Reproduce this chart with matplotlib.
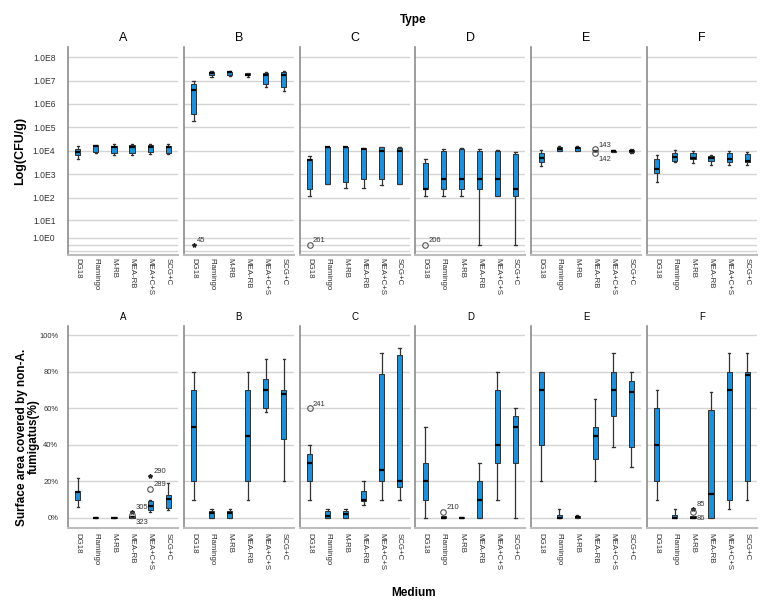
import numpy as np
import matplotlib
matplotlib.use('Agg')
import matplotlib.pyplot as plt

plt.rcParams['font.family'] = ['Liberation Sans', 'DejaVu Sans']

types = ['A', 'B', 'C', 'D', 'E', 'F']
media = ['DG18', 'Flamingo', 'M-RB', 'MEA-RB', 'MEA+C+S', 'SCG+C']

# CFU/g box statistics, rows = type, columns = medium
cfu_low = [[4700, 7700, 6600, 6600, 7200, 7200],
           [1.9e5, 1.4e7, 1.55e7, 1.4e7, 5.3e6, 3.5e6],
           [122, 370, 250, 250, 350, 370],
           [122, 122, 122, 0, 122, 0],
           [2200, 10000, 10000, 9400, 8500, 8000],
           [480, 3200, 2900, 2400, 2500, 2400]]
cfu_q1 = [[6600, 9000, 8200, 8200, 8500, 8200],
          [3.9e5, 1.7e7, 1.7e7, 1.65e7, 7.4e6, 5.3e6],
          [233, 370, 480, 600, 600, 370],
          [240, 240, 240, 240, 122, 122],
          [3400, 10000, 10000, 9500, 9300, 9000],
          [1100, 3800, 4400, 3600, 3200, 3200]]
cfu_med = [[9100, 16000, 14800, 14800, 14800, 14800],
           [3.8e6, 2.15e7, 2.2e7, 1.8e7, 1.7e7, 1.7e7],
           [4200, 14800, 14800, 11800, 9700, 9700],
           [240, 600, 600, 600, 600, 240],
           [5000, 12200, 13000, 9700, 9700, 9700],
           [1660, 5500, 5000, 5000, 4400, 3600]]
cfu_q3 = [[11700, 17000, 16300, 17000, 17000, 16300],
          [7.4e6, 2.4e7, 2.4e7, 2.0e7, 2.1e7, 2.3e7],
          [4700, 14800, 14800, 12600, 14800, 13000],
          [2900, 9700, 12200, 9700, 9700, 7000],
          [7700, 15000, 15000, 9900, 10200, 10700],
          [4300, 8200, 8400, 5900, 7700, 7300]]
cfu_high = [[16200, 18000, 20500, 20500, 20500, 19000],
            [9.1e6, 2.5e7, 2.5e7, 2.05e7, 2.4e7, 2.45e7],
            [5900, 14800, 14800, 12600, 14800, 14500],
            [4400, 12200, 12600, 11500, 10500, 9100],
            [10700, 15800, 16500, 10000, 11200, 11500],
            [6600, 10700, 10000, 6600, 10000, 8500]]
# (type, medium, value, case label, marker, label below?)
cfu_outliers = [('B', 'DG18', 0, '45', '*', False),
                ('C', 'DG18', 0, '261', 'o', False),
                ('D', 'DG18', 0, '206', 'o', False),
                ('E', 'MEA-RB', 11500, '143', 'o', False),
                ('E', 'MEA-RB', 8200, '142', 'o', True)]

# surface area covered by non-A. fumigatus (%)
area_low = [[6, 0, 0, 0, 3, 4.2],
            [10, 0, 0, 10, 58, 20],
            [10, 0, 0, 7, 10, 10],
            [0, 0, 0, 0, 10, 0],
            [20, 0, 0, 20, 39, 28],
            [10, 0, 0, 0, 5, 10]]
area_q1 = [[10, 0, 0, 0, 4.5, 5.5],
           [20, 0, 0, 20, 60, 43],
           [20, 0, 0, 9.5, 20, 17],
           [10, 0, 0, 0, 30, 30],
           [40, 0, 0, 32, 56, 39],
           [20, 0, 0, 0, 10, 20]]
area_med = [[14.3, 0, 0, 0.5, 6.5, 10.5],
            [50, 2.7, 2.7, 45, 70, 68],
            [30, 1, 2, 10, 26, 20],
            [20, 0, 0, 10, 40, 50],
            [70, 0, 0.3, 45, 70, 69],
            [40, 0, 0, 13, 70, 78]]
area_q3 = [[15, 0.5, 0.5, 1, 9, 12.5],
           [70, 4, 4, 70, 76, 70],
           [35, 4, 4, 15, 79, 89],
           [30, 1, 0.3, 20, 70, 56],
           [80, 1.8, 0.9, 50, 80, 75],
           [60, 1.8, 0.8, 59, 80, 80]]
area_high = [[22, 0.5, 0.5, 1, 10, 19.2],
             [80, 5, 5, 80, 87, 87],
             [40, 5, 5, 20, 90.5, 93],
             [50, 1, 0.3, 30, 80, 60],
             [80, 5, 1.8, 65, 90, 80],
             [70, 5, 0.8, 69, 90, 90]]
area_outliers = [('A', 'MEA-RB', 3.5, '305', '*', False),
                 ('A', 'MEA-RB', 1.5, '323', 'o', True),
                 ('A', 'MEA+C+S', 23, '290', '*', False),
                 ('A', 'MEA+C+S', 16, '289', 'o', False),
                 ('C', 'DG18', 60, '241', 'o', False),
                 ('D', 'Flamingo', 3.3, '210', 'o', False),
                 ('F', 'M-RB', 5, '85', '*', False),
                 ('F', 'M-RB', 3.5, '86', 'o', True)]

BLUE = '#1f8fd8'
W, H = 776, 606
fig = plt.figure(figsize=(W / 100, H / 100), dpi=100)


def fwd(x):
    return np.log10(np.clip(np.asarray(x, dtype=float) + 1, 1e-3, None))


def inv(y):
    return 10 ** np.asarray(y, dtype=float) - 1


def make_row(top_px, bottom_px):
    axes = []
    for i in range(6):
        left = 68 + i * 115.8
        ax = fig.add_axes([left / W, 1 - bottom_px / H, 110 / W, (bottom_px - top_px) / H])
        axes.append(ax)
    return axes


def draw_panel(ax, t, low, q1, med, q3, high, outliers):
    stats = [dict(whislo=low[t][m], q1=q1[t][m], med=med[t][m], q3=q3[t][m],
                  whishi=high[t][m], label=media[m]) for m in range(6)]
    ax.bxp(stats, positions=range(6), widths=0.28, capwidths=0.14, patch_artist=True,
           showfliers=False,
           boxprops=dict(facecolor=BLUE, edgecolor='#1a1a1a', linewidth=0.6),
           medianprops=dict(color='black', linewidth=1.6),
           whiskerprops=dict(color='#333333', linewidth=0.9),
           capprops=dict(color='#333333', linewidth=0.9))
    for tp, md, val, lab, mk, below in outliers:
        if tp != types[t]:
            continue
        m = media.index(md)
        if mk == 'o':
            ax.plot(m, val, marker='o', ms=4, mfc='none', mec='#555555', mew=0.8, zorder=5)
        else:
            ax.plot(m, val, marker='*', ms=3, color='#222222', zorder=5)
        ax.annotate(lab, (m, val), xytext=(2.5, -5 if below else 3), textcoords='offset points',
                    fontsize=5.5, color='#333333', va='center')
    ax.set_xlim(-0.55, 5.55)
    ax.set_xticks(range(6))
    ax.set_xticklabels(media, rotation=-90, fontsize=5.7, color='#333333')
    ax.set_axisbelow(True)
    ax.grid(axis='y', which='both', color='#d4d4d4', linewidth=1.0)
    ax.tick_params(which='both', length=0)
    for s in ['top', 'right']:
        ax.spines[s].set_visible(False)
    ax.spines['left'].set_color('#8c8c8c')
    ax.spines['left'].set_linewidth(1.2)
    ax.spines['bottom'].set_color('#bdbdbd')
    ax.spines['bottom'].set_linewidth(1.5)


top_axes = make_row(47, 255)
bot_axes = make_row(326, 528)

for t, ax in enumerate(top_axes):
    ax.set_yscale('function', functions=(fwd, inv))
    draw_panel(ax, t, cfu_low, cfu_q1, cfu_med, cfu_q3, cfu_high, cfu_outliers)
    ax.set_ylim(-0.64, 10 ** 8.43 - 1)
    ax.set_yticks([10.0 ** k for k in range(9)])
    ax.set_yticks([0, -0.45], minor=True)
    ax.set_yticklabels(['1.0E%d' % k for k in range(9)], fontsize=6.2, color='#333333')
    ax.yaxis.set_minor_formatter(matplotlib.ticker.NullFormatter())
    ax.tick_params(axis='y', pad=9)
    ax.tick_params(axis='x', pad=2)
    ax.set_title(types[t], fontsize=9, pad=4)
    if t > 0:
        ax.tick_params(labelleft=False)

for t, ax in enumerate(bot_axes):
    draw_panel(ax, t, area_low, area_q1, area_med, area_q3, area_high, area_outliers)
    ax.set_ylim(-5.5, 105)
    ax.set_yticks([0, 20, 40, 60, 80, 100])
    ax.set_yticklabels(['0%', '20%', '40%', '60%', '80%', '100%'], fontsize=5.5, color='#333333')
    ax.tick_params(axis='y', pad=7)
    ax.tick_params(axis='x', pad=3.5)
    ax.set_title(types[t], fontsize=7, pad=4)
    if t > 0:
        ax.tick_params(labelleft=False)

fig.text(413 / W, 1 - 20 / H, 'Type', ha='center', va='center', fontsize=8.5, fontweight='bold')
fig.text(414 / W, 1 - 593 / H, 'Medium', ha='center', va='center', fontsize=8.5, fontweight='bold')
fig.text(20 / W, 1 - 151 / H, 'Log(CFU/g)', rotation=90, ha='center', va='center',
         fontsize=9, fontweight='bold')
fig.text(28 / W, 1 - 437 / H, 'Surface area covered by non-A.\nfumigatus(%)', rotation=90,
         ha='center', va='center', fontsize=8.5, fontweight='bold', linespacing=1.0)

fig.savefig('out.png', dpi=100)
